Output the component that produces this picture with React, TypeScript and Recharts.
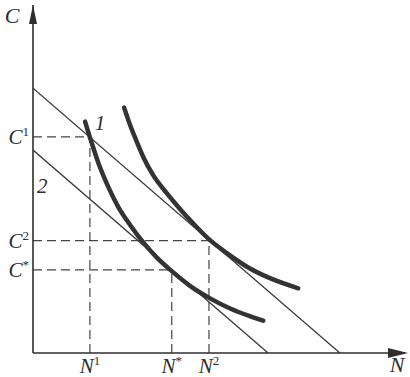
import React from 'react';
import { LineChart, Line, XAxis, YAxis, ReferenceLine, ReferenceDot } from 'recharts';

const budget1 = [{ n: 0, c: 7.61 }, { n: 8.25, c: 0 }];
const budget2 = [{ n: 0, c: 5.83 }, { n: 6.32, c: 0 }];
const curveI = [
  { n: 1.4, c: 6.65 }, { n: 1.58, c: 6.03 }, { n: 1.76, c: 5.45 }, { n: 2.02, c: 4.78 },
  { n: 2.29, c: 4.2 }, { n: 2.61, c: 3.68 }, { n: 2.97, c: 3.17 }, { n: 3.33, c: 2.74 },
  { n: 3.7, c: 2.38 }, { n: 4.22, c: 1.93 }, { n: 4.76, c: 1.57 }, { n: 5.3, c: 1.28 },
  { n: 5.83, c: 1.06 }, { n: 6.19, c: 0.93 },
];
const curveII = [
  { n: 2.45, c: 7.05 }, { n: 2.61, c: 6.55 }, { n: 2.79, c: 6.07 }, { n: 2.97, c: 5.62 },
  { n: 3.23, c: 5.11 }, { n: 3.59, c: 4.6 }, { n: 3.95, c: 4.14 }, { n: 4.31, c: 3.72 },
  { n: 4.75, c: 3.25 }, { n: 5.21, c: 2.87 }, { n: 5.75, c: 2.48 }, { n: 6.37, c: 2.15 },
  { n: 7.13, c: 1.86 },
];
const nTicks = [1.53, 3.73, 4.73];
const nTickSups = ['1', '*', '2'];
const cTicks = [6.21, 3.23, 2.39];
const cTickSups = ['1', '2', '*'];
const curveLabels = [{ n: 1.8, c: 6.6, text: '1' }, { n: 0.25, c: 4.8, text: '2' }];

const FONT = '"Liberation Serif", "DejaVu Serif", serif';
const INK = '#2e2e2e';

const NTick = (props: any) => {
  const { x, y, payload } = props;
  const i = nTicks.indexOf(payload.value);
  return (
    <text x={x} y={y + 12} textAnchor="middle" fontFamily={FONT} fontStyle="italic" fontSize={21} fill={INK}>
      N<tspan fontSize={13} fontStyle="normal" dy={-8}>{nTickSups[i]}</tspan>
    </text>
  );
};

const CTick = (props: any) => {
  const { y, payload } = props;
  const i = cTicks.indexOf(payload.value);
  return (
    <text x={29} y={y + 7} textAnchor="end" fontFamily={FONT} fontStyle="italic" fontSize={21} fill={INK}>
      C<tspan fontSize={13} fontStyle="normal" dy={-8}>{cTickSups[i]}</tspan>
    </text>
  );
};

const dash = '9 5';

export default function App() {
  return (
    <div style={{ position: 'absolute', left: 0, top: 0, background: '#fff' }}>
      <LineChart width={410} height={377} margin={{ top: 5, right: 5, bottom: 0, left: 0 }}>
        <XAxis
          dataKey="n" type="number" domain={[0, 10]} ticks={nTicks} tick={<NTick />}
          tickLine={false} axisLine={{ stroke: INK, strokeWidth: 1.6 }} height={24} allowDataOverflow
        />
        <YAxis
          dataKey="c" type="number" domain={[0, 10]} ticks={cTicks} tick={<CTick />}
          tickLine={false} axisLine={{ stroke: INK, strokeWidth: 1.6 }} width={33} allowDataOverflow
        />
        <ReferenceLine segment={[{ x: 0, y: cTicks[0] }, { x: nTicks[0], y: cTicks[0] }]} stroke="#444" strokeWidth={1.2} strokeDasharray={dash} />
        <ReferenceLine segment={[{ x: nTicks[0], y: 0 }, { x: nTicks[0], y: cTicks[0] }]} stroke="#444" strokeWidth={1.2} strokeDasharray={dash} />
        <ReferenceLine segment={[{ x: 0, y: cTicks[1] }, { x: nTicks[2], y: cTicks[1] }]} stroke="#444" strokeWidth={1.2} strokeDasharray={dash} />
        <ReferenceLine segment={[{ x: nTicks[2], y: 0 }, { x: nTicks[2], y: cTicks[1] }]} stroke="#444" strokeWidth={1.2} strokeDasharray={dash} />
        <ReferenceLine segment={[{ x: 0, y: cTicks[2] }, { x: nTicks[1], y: cTicks[2] }]} stroke="#444" strokeWidth={1.2} strokeDasharray={dash} />
        <ReferenceLine segment={[{ x: nTicks[1], y: 0 }, { x: nTicks[1], y: cTicks[2] }]} stroke="#444" strokeWidth={1.2} strokeDasharray={dash} />
        <Line data={budget1} dataKey="c" type="linear" stroke="#3a3a3a" strokeWidth={1.3} dot={false} isAnimationActive={false} />
        <Line data={budget2} dataKey="c" type="linear" stroke="#3a3a3a" strokeWidth={1.3} dot={false} isAnimationActive={false} />
        <Line data={curveI} dataKey="c" type="monotone" stroke="#333" strokeWidth={4.5} strokeLinecap="round" dot={false} isAnimationActive={false} />
        <Line data={curveII} dataKey="c" type="monotone" stroke="#333" strokeWidth={4.5} strokeLinecap="round" dot={false} isAnimationActive={false} />
        {curveLabels.map((l) => (
          <ReferenceDot key={l.text} x={l.n} y={l.c} ifOverflow="visible"
            shape={(p: any) => (
              <text x={p.cx} y={p.cy + 7} textAnchor="middle" fontFamily={FONT} fontStyle="italic" fontSize={21} fill={INK}>{l.text}</text>
            )}
          />
        ))}
        <ReferenceDot x={0} y={10} ifOverflow="visible"
          shape={(p: any) => (
            <g>
              <polygon points={`${p.cx},${p.cy} ${p.cx - 4},${p.cy + 19} ${p.cx + 4},${p.cy + 19}`} fill={INK} />
              <text x={p.cx - 21} y={p.cy + 18} textAnchor="middle" fontFamily={FONT} fontStyle="italic" fontSize={22} fill={INK}>C</text>
            </g>
          )}
        />
        <ReferenceDot x={10} y={0} ifOverflow="visible"
          shape={(p: any) => (
            <g>
              <polygon points={`${p.cx + 3},${p.cy} ${p.cx - 17},${p.cy - 5} ${p.cx - 17},${p.cy + 5}`} fill={INK} />
              <text x={p.cx - 8} y={p.cy + 19} textAnchor="middle" fontFamily={FONT} fontStyle="italic" fontSize={22} fill={INK}>N</text>
            </g>
          )}
        />
      </LineChart>
    </div>
  );
}
